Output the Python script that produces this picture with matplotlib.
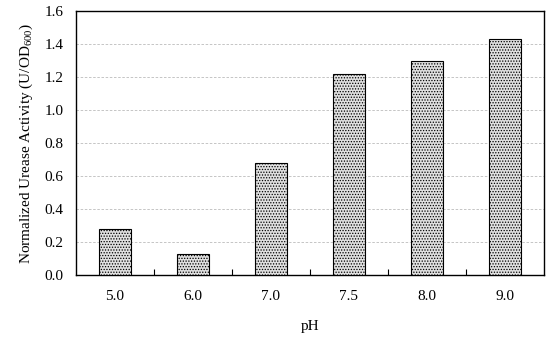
import matplotlib
matplotlib.use("Agg")
import matplotlib.pyplot as plt
import numpy as np

ph_labels = ["5.0", "6.0", "7.0", "7.5", "8.0", "9.0"]
activity = [0.28, 0.127, 0.68, 1.22, 1.30, 1.43]

plt.rcParams["font.family"] = ["Liberation Serif", "DejaVu Serif"]
plt.rcParams["mathtext.fontset"] = "custom"
plt.rcParams["mathtext.rm"] = "Liberation Serif"
plt.rcParams["mathtext.it"] = "Liberation Serif:italic"
plt.rcParams["hatch.color"] = "#333333"
plt.rcParams["hatch.linewidth"] = 0.6

fig = plt.figure(figsize=(5.5, 3.44), dpi=100)
ax = fig.add_axes([76 / 550, 1 - 275 / 344, 468 / 550, 264 / 344])

x = np.arange(len(ph_labels))
ax.bar(x, activity, width=0.41, color="#e0e0e0", edgecolor="black",
       linewidth=0.8, hatch="......", zorder=3)

ax.set_xlim(-0.5, len(ph_labels) - 0.5)
ax.set_ylim(0, 1.6)
ax.set_yticks(np.arange(0, 1.61, 0.2))
ax.set_yticklabels([f"{v:.1f}" for v in np.arange(0, 1.61, 0.2)])
ax.set_xticks(x)
ax.set_xticklabels(ph_labels)
ax.set_xticks(np.arange(0.5, len(ph_labels) - 0.5, 1), minor=True)

ax.tick_params(axis="both", which="major", length=0, labelsize=11)
ax.tick_params(axis="x", which="major", pad=11)
ax.tick_params(axis="y", which="major", pad=9)
ax.tick_params(axis="x", which="minor", direction="in", length=4, width=0.8)

ax.grid(axis="y", color="#bbbbbb", linestyle=(0, (3, 2)), linewidth=0.6, zorder=0)
for s in ax.spines.values():
    s.set_linewidth(1.0)

ax.set_xlabel("pH", fontsize=11, labelpad=12)
ax.set_ylabel("Normalized Urease Activity (U/OD$_{\\mathrm{600}}$)", fontsize=11, labelpad=7)

fig.savefig("out.png", dpi=100)
